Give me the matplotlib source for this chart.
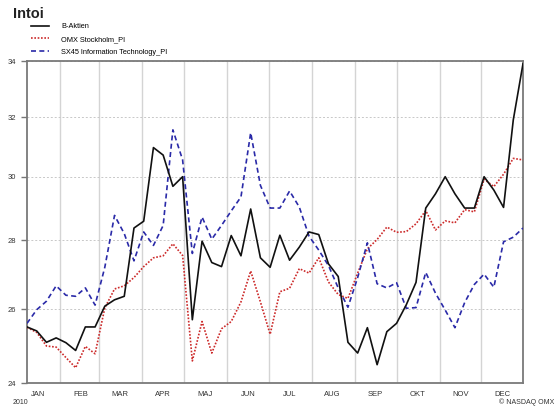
#!/usr/bin/env python
"""
plot.py
=======
Intoi : weekly closes 2010, log y axis
"""
import numpy as np
import pandas as pd
import matplotlib
matplotlib.use("Agg")
import matplotlib.pyplot as plt
import matplotlib.dates as mdates
from matplotlib.ticker import FixedLocator, NullLocator, NullFormatter

plt.rcParams["font.family"] = ["Liberation Sans", "DejaVu Sans"]

# weekly fridays, 2010-01-08 .. 2010-12-31
weeks = pd.date_range("2010-01-08", "2010-12-31", freq="7D")

b_aktien = [25.50, 25.39, 25.08, 25.20, 25.07, 24.86, 25.50, 25.50, 26.08, 26.26,
            26.36, 28.38, 28.59, 30.96, 30.71, 29.69, 30.00, 25.70, 27.98, 27.34,
            27.22, 28.15, 27.54, 28.97, 27.48, 27.20, 28.16, 27.41, 27.80, 28.26,
            28.18, 27.30, 26.93, 25.08, 24.79, 25.48, 24.48, 25.37, 25.60, 26.12,
            26.76, 29.00, 29.45, 30.00, 29.45, 29.00, 29.00, 30.00, 29.57, 29.02,
            31.90, 33.90]

omx = [25.49, 25.35, 24.98, 24.95, 24.67, 24.40, 24.97, 24.77, 26.03, 26.57,
       26.66, 26.90, 27.22, 27.48, 27.54, 27.90, 27.55, 24.58, 25.65, 24.79,
       25.45, 25.65, 26.20, 27.09, 26.20, 25.30, 26.49, 26.59, 27.16, 27.03,
       27.48, 26.77, 26.41, 26.30, 27.03, 27.75, 28.03, 28.41, 28.25, 28.27,
       28.51, 28.92, 28.32, 28.60, 28.54, 28.95, 28.88, 29.92, 29.68, 30.08,
       30.60, 30.55]

sx45 = [25.60, 25.98, 26.22, 26.66, 26.39, 26.36, 26.60, 26.11, 27.20, 28.77,
        28.21, 27.39, 28.26, 27.85, 28.46, 31.56, 30.55, 27.61, 28.72, 28.04,
        28.46, 28.91, 29.35, 31.46, 29.72, 29.00, 29.00, 29.54, 29.03, 28.13,
        27.71, 27.25, 26.60, 26.05, 26.90, 27.93, 26.72, 26.60, 26.75, 26.02,
        26.04, 27.05, 26.45, 25.97, 25.48, 26.18, 26.70, 27.00, 26.62, 27.96,
        28.10, 28.38]

series_names = ["B-Aktien", "OMX Stockholm_PI", "SX45 Information Technology_PI"]
month_names = ["JAN", "FEB", "MAR", "APR", "MAJ", "JUN",
               "JUL", "AUG", "SEP", "OKT", "NOV", "DEC"]
yticks = [24, 26, 28, 30, 32, 34]

W, H = 558, 407
fig = plt.figure(figsize=(W / 100., H / 100.), dpi=100)
ax = fig.add_axes([27 / W, 1 - 383 / H, (523 - 27) / W, (383 - 61) / H])

l1, = ax.plot(weeks, b_aktien, color="#111111", lw=1.2, zorder=4)
l2, = ax.plot(weeks, omx, color="#cc2a2a", lw=1.2, ls=(0, (1, 1)), zorder=3)
l3, = ax.plot(weeks, sx45, color="#2a2aa8", lw=1.2, ls=(0, (3, 2)), zorder=3)

ax.set_yscale("log")
ax.set_ylim(24, 34)
ax.yaxis.set_major_locator(FixedLocator(yticks))
ax.yaxis.set_minor_locator(NullLocator())
ax.yaxis.set_minor_formatter(NullFormatter())
ax.set_yticklabels([str(v) for v in yticks])

ax.set_xlim(pd.Timestamp("2010-01-08"), pd.Timestamp("2010-12-31"))
month_starts = pd.date_range("2010-02-01", "2010-12-01", freq="MS")
mid_months = pd.date_range("2010-01-01", "2010-12-01", freq="MS") + pd.Timedelta(days=15)
ax.xaxis.set_major_locator(FixedLocator(mdates.date2num(month_starts)))
ax.xaxis.set_major_formatter(NullFormatter())
ax.xaxis.set_minor_locator(FixedLocator(mdates.date2num(mid_months)))
ax.set_xticklabels(month_names, minor=True)

ax.grid(axis="x", which="major", color="#d4d4d4", lw=1.0, ls="-", zorder=0)
ax.grid(axis="y", which="major", color="#c8c8c8", lw=0.7, ls=(0, (2, 2)), zorder=0)

ax.tick_params(axis="x", which="major", length=0)
ax.tick_params(axis="x", which="minor", length=0, pad=6, labelsize=5.5, labelcolor="#333333")
ax.tick_params(axis="y", which="major", length=4, width=1.0, color="#777777",
               pad=4, labelsize=5.5, labelcolor="#333333")

for sp in ax.spines.values():
    sp.set_color("#7a7a7a")
    sp.set_linewidth(1.3)

fig.text(13 / W, 1 - 14 / H, "Intoi", fontsize=10.5, fontweight="bold",
         color="#222222", va="center", ha="left")

fig.legend([l1, l2, l3], series_names, loc="upper left",
           bbox_to_anchor=(31 / W, 1 - 23 / H), frameon=False, fontsize=5.3,
           handlelength=2.5, handletextpad=1.6, labelspacing=0.75,
           borderaxespad=0, borderpad=0)

fig.text(13 / W, 1 - 402 / H, "2010", fontsize=5, color="#333333", va="center")
fig.text(554 / W, 1 - 402 / H, "\u00a9 NASDAQ OMX", fontsize=5, color="#333333",
         va="center", ha="right")

fig.savefig("out.png", dpi=100)
